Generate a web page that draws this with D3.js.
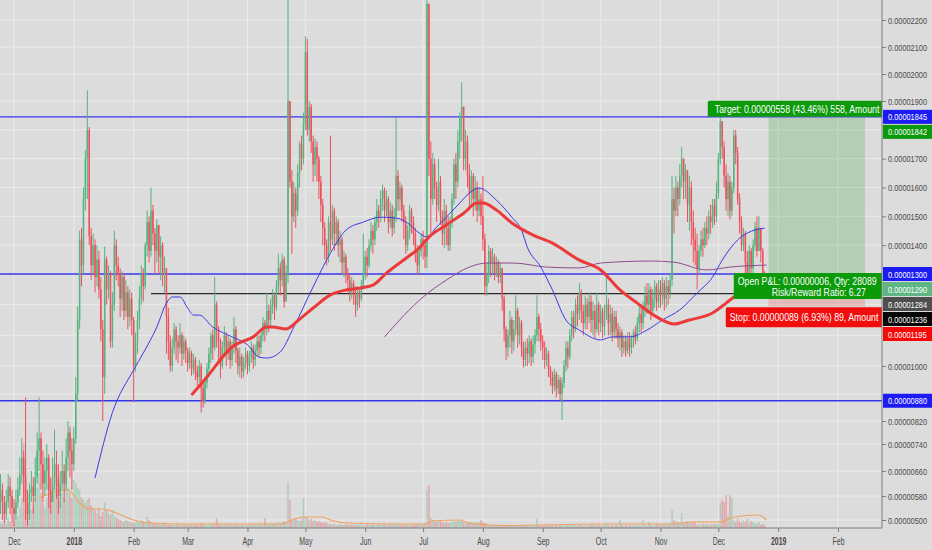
<!DOCTYPE html>
<html>
<head>
<meta charset="utf-8">
<script src="https://cdn.jsdelivr.net/npm/d3@7"></script>
<style>
  body { margin: 0; background: #dcdcdc; }
  svg { display: block; font-family: "Liberation Sans", Arial, sans-serif; }
</style>
</head>
<body>
<div id="chart"></div>
<script>
// daily candles from 24 Nov 2017, prices in units of 0.00000001
// (body of each candle runs from the previous close to its own close)
const closes = [
  600,560,520,560,610,580,540,                                                            // Nov 17
  520,560,600,650,700,640,560,520,590,610,580,640,720,760,680,620,660,700,600,560,620,680,640,580,620,660,620,700,780,720,680, // Dec
  760,900,1150,1420,1330,1560,1700,1800,1430,1330,1400,1290,1350,1250,1120,960,1350,1250,1300,1080,1200,1400,1330,1300,1220,1290,1180,1240,1160,1220,1150, // Jan
  1000,1080,1150,1220,1300,1260,1400,1480,1380,1520,1440,1380,1470,1360,1400,1300,1320,1160,1080,1000,1060,1120,1080,1060,1100,1040,1080,1050, // Feb
  1010,1040,990,1020,980,960,1000,920,880,940,990,1040,1100,1060,1200,1120,1080,1000,1060,1100,1040,1080,1020,1060,1120,1050,1000,1030,980,1010,1040, // Mar
  1000,1030,1060,1020,1050,1080,1060,1100,1140,1120,1180,1150,1200,1230,1190,1260,1320,1280,1350,1210,1300,1900,1620,1500,1580,1520,1650,1750,1700,1820, // Apr
  2080,1800,1880,1760,1680,1740,1700,1620,1540,1460,1400,1360,1480,1420,1520,1440,1480,1400,1420,1340,1360,1300,1280,1240,1270,1230,1200,1240,1220,1260,1300, // May
  1360,1330,1400,1450,1420,1480,1520,1500,1560,1590,1520,1560,1480,1520,1460,1500,1640,1560,1600,1520,1480,1400,1450,1520,1480,1440,1380,1330,1380,1420, // Jun
  1400,1360,2260,1700,1560,1680,1600,1540,1620,1500,1440,1520,1460,1400,1480,1560,1680,1620,1760,1840,1880,1700,1760,1640,1580,1640,1560,1600,1520,1560,1500, // Jul
  1420,1260,1300,1380,1340,1360,1300,1340,1290,1320,1220,1120,1060,1100,1150,1080,1120,1180,1100,1140,1060,1020,1060,1040,1080,1030,1070,1100,1160,1120,1080, // Aug
  1060,1020,1040,990,960,930,970,920,950,900,940,1000,1060,1030,1100,1160,1120,1200,1170,1240,1180,1140,1200,1160,1210,1150,1180,1120,1200,1140, // Sep
  1180,1130,1170,1200,1140,1170,1110,1160,1120,1090,1110,1060,1080,1050,1090,1060,1080,1110,1090,1140,1170,1140,1190,1230,1200,1250,1180,1220,1260,1210,1250, // Oct
  1230,1270,1220,1260,1240,1280,1560,1520,1600,1560,1640,1700,1620,1660,1540,1600,1480,1420,1380,1320,1380,1420,1400,1460,1440,1500,1480,1540,1500,1580, // Nov
  1700,1830,1740,1640,1560,1620,1520,1600,1780,1720,1560,1480,1400,1440,1340,1300,1380,1320,1400,1460,1380,1460,1380,1300,1236 // Dec
];
const highs = [
  650,620,580,600,650,640,600,
  570,600,640,700,760,720,890,600,620,660,640,700,780,890,780,720,700,740,710,640,700,790,720,680,660,720,680,760,820,800,760,
  800,960,1195,1450,1460,1600,1730,1940,1810,1460,1440,1420,1400,1380,1290,1150,1395,1360,1330,1310,1240,1450,1420,1360,1320,1310,1300,1280,1260,1250,1240,
  1160,1110,1180,1260,1330,1320,1410,1520,1500,1600,1540,1460,1490,1470,1430,1410,1360,1320,1190,1100,1090,1140,1130,1100,1140,1110,1100,1090,
  1060,1060,1050,1040,1030,1000,1020,1010,940,960,1010,1060,1110,1120,1290,1210,1130,1090,1080,1130,1110,1100,1090,1080,1160,1130,1060,1060,1040,1030,1060,
  1050,1050,1080,1070,1070,1100,1100,1120,1160,1150,1240,1200,1220,1250,1240,1280,1370,1340,1370,1360,1330,2300,1900,1660,1620,1600,1680,1760,1780,1860,
  2140,2130,1900,1890,1780,1770,1760,1710,1640,1560,1480,1420,1500,1780,1540,1530,1500,1490,1450,1430,1380,1370,1320,1300,1290,1280,1260,1260,1250,1280,1440,
  1380,1390,1420,1480,1470,1500,1560,1540,1590,1610,1600,1590,1570,1550,1540,1530,1845,1660,1620,1610,1540,1500,1470,1540,1530,1500,1460,1400,1400,1440,
  1450,1420,2400,2260,1760,1720,1700,1620,1700,1640,1520,1560,1540,1500,1500,1580,1700,1720,1800,1860,1970,1880,1800,1780,1680,1660,1650,1640,1620,1600,1580,
  1640,1440,1340,1400,1390,1390,1370,1360,1350,1340,1320,1230,1130,1120,1180,1160,1150,1230,1190,1160,1150,1080,1080,1090,1100,1090,1100,1120,1230,1170,1140,
  1100,1080,1060,1050,1000,980,990,980,970,960,960,1020,1080,1080,1120,1180,1180,1220,1230,1270,1250,1200,1230,1220,1240,1230,1210,1200,1240,1210,
  1200,1190,1200,1300,1220,1200,1190,1180,1180,1140,1130,1120,1100,1100,1110,1110,1100,1120,1130,1160,1200,1190,1210,1260,1270,1270,1260,1250,1280,1270,1280,
  1280,1290,1280,1290,1280,1300,1640,1600,1640,1620,1680,1740,1700,1680,1660,1640,1620,1520,1460,1440,1400,1450,1460,1480,1500,1520,1540,1560,1560,1620,
  1720,1845,1830,1760,1680,1650,1640,1620,1800,1800,1740,1580,1500,1460,1450,1380,1400,1390,1420,1480,1500,1500,1460,1390,1310
];
const lows = [
  520,500,490,500,540,520,490,
  480,500,540,580,620,560,500,480,500,560,520,560,620,660,600,560,580,600,540,520,560,600,570,520,540,600,560,600,660,640,600,
  660,740,880,1120,1260,1300,1520,1560,1400,1280,1300,1240,1260,1220,1080,820,900,1200,1220,1060,1060,1180,1280,1260,1160,1180,1150,1160,1120,1130,1100,
  875,980,1040,1120,1200,1210,1250,1360,1340,1360,1400,1300,1340,1300,1280,1260,1240,1040,1020,980,980,1040,1020,1010,1040,1000,1020,1010,
  980,990,965,970,950,930,940,845,860,870,920,960,1010,1020,1050,1060,1020,955,990,1040,1000,1020,990,1000,1040,1010,970,960,955,960,990,
  970,980,1010,990,1000,1030,1030,1040,1080,1080,1100,1110,1130,1170,1150,1180,1240,1230,1260,1190,1210,1270,1600,1370,1480,1460,1500,1600,1660,1680,
  1800,1780,1760,1720,1620,1640,1620,1560,1480,1400,1350,1330,1340,1380,1400,1380,1400,1360,1340,1300,1290,1270,1240,1210,1220,1200,1160,1180,1190,1210,1250,
  1280,1290,1320,1380,1370,1400,1450,1460,1480,1520,1480,1500,1440,1460,1430,1440,1480,1520,1520,1480,1420,1370,1380,1420,1440,1400,1340,1300,1300,1360,
  1350,1320,1320,1640,1440,1540,1560,1480,1520,1470,1400,1390,1400,1380,1380,1460,1540,1560,1600,1700,1760,1660,1660,1600,1520,1540,1500,1520,1480,1500,1470,
  1380,1230,1230,1270,1290,1300,1280,1290,1270,1270,1180,1080,1020,1030,1060,1040,1050,1100,1060,1070,1030,995,1000,1000,1010,1000,1010,1040,1080,1080,1050,
  1020,990,1000,960,930,900,910,890,900,880,823,920,980,990,1020,1080,1090,1110,1130,1150,1140,1100,1120,1120,1140,1110,1100,1090,1110,1100,
  1110,1090,1100,1150,1100,1100,1080,1090,1090,1060,1050,1030,1040,1030,1040,1030,1040,1060,1070,1080,1110,1110,1120,1160,1170,1180,1150,1170,1190,1180,1190,
  1190,1200,1180,1190,1200,1220,1260,1440,1500,1500,1540,1600,1560,1560,1480,1450,1400,1340,1330,1250,1300,1360,1360,1390,1400,1420,1440,1460,1470,1480,
  1560,1680,1700,1600,1520,1500,1490,1500,1580,1680,1540,1440,1380,1380,1300,1270,1290,1280,1300,1380,1360,1400,1340,1270,1220
];
const volumes = [
  6,4,8,5,10,6,4,
  5,8,12,20,30,85,60,25,15,18,22,30,40,55,35,25,20,30,45,50,35,40,48,30,25,35,30,45,40,35,30,
  48,45,40,38,30,28,25,28,30,22,20,18,15,20,12,16,26,18,15,13,18,12,10,9,8,7,6,8,7,6,5,
  6,5,7,6,8,7,6,11,8,6,5,4,5,4,3,4,5,4,3,3,4,3,3,4,3,3,4,3,
  3,4,3,3,4,3,3,5,4,3,3,4,3,3,4,10,4,3,3,4,3,3,4,3,3,4,3,3,4,3,3,
  3,4,3,4,3,4,3,4,3,10,4,3,4,5,4,5,6,5,6,7,6,46,28,8,9,10,8,7,9,30,
  12,10,8,9,7,8,6,7,6,5,6,5,4,4,3,4,3,3,4,3,3,4,3,3,4,3,3,4,3,6,3,
  3,4,3,3,4,3,3,4,3,3,4,3,3,4,3,5,4,3,3,4,3,3,4,3,3,4,3,3,4,3,
  4,5,38,43,10,8,7,6,8,8,6,5,6,5,5,6,7,6,8,7,9,6,5,6,5,6,5,6,5,6,8,
  6,5,4,3,3,3,2,3,2,3,3,2,3,2,3,2,3,2,3,2,3,2,3,2,3,2,3,2,10,3,2,
  3,2,3,2,3,3,2,3,2,3,3,2,3,2,3,3,2,3,2,3,3,2,3,2,3,3,4,3,2,3,
  3,2,3,5,3,2,3,2,3,2,8,3,2,3,2,3,2,3,2,3,3,2,8,3,2,6,3,2,3,4,3,
  3,4,3,4,3,4,18,8,7,6,5,15,6,5,7,5,6,5,6,3,4,3,4,3,4,3,4,3,4,4,
  4,25,28,26,33,12,33,30,8,6,10,7,5,8,6,9,5,7,6,5,4,6,3,4,3
];

// moving averages: [day index, value]
const ma50 = [[49,638],[58,845],[69,986],[74,1042],[81,1127],[86,1205],[89,1225],[93,1225],[97,1189],[100,1166],[103,1166],[110,1127],[120,1095],[128,1069],[134,1029],[138,1026],[145,1046],[152,1127],[162,1258],[171,1373],[179,1452],[188,1480],[197,1497],[205,1494],[211,1477],[217,1442],[221,1428],[226,1463],[231,1497],[238,1546],[243,1581],[248,1598],[257,1556],[265,1497],[270,1452],[273,1393],[280,1324],[286,1248],[293,1150],[300,1117],[311,1085],[317,1095],[326,1095],[335,1117],[343,1150],[352,1183],[361,1238],[369,1290],[374,1348],[382,1418],[387,1442],[396,1459]];
const ma100 = [[99,897],[107,961],[120,1062],[131,1095],[138,1127],[141,1127],[148,1121],[155,1153],[162,1189],[171,1232],[179,1248],[186,1254],[193,1264],[200,1303],[211,1359],[217,1390],[222,1428],[231,1470],[240,1511],[247,1546],[250,1546],[257,1522],[265,1477],[276,1435],[286,1407],[300,1348],[311,1314],[321,1248],[330,1205],[340,1160],[349,1137],[357,1150],[369,1173],[376,1205],[380,1225],[396,1274]];
const ma200 = [[199,1095],[219,1225],[231,1280],[243,1324],[252,1338],[266,1338],[283,1324],[300,1321],[311,1338],[337,1345],[349,1341],[366,1314],[378,1324],[397,1331]];
const volMa = [[20,30],[28,36],[35,38],[41,25],[46,19],[53,19],[60,15],[69,8],[77,5],[95,4],[120,4],[146,4],[152,9],[159,11],[167,11],[171,8],[180,5],[207,4],[221,4],[223,7],[238,8],[243,5],[260,2.5],[311,4],[348,4],[359,6],[373,6],[380,11],[393,13],[397,8]];

// drawn levels and long position
const blueLevels = [1845, 1300, 880];
const blackLevel = 1236;
const blackLevelStart = new Date(2018, 1, 10);
const entry = 1284, target = 1842, stop = 1195;
const posStart = new Date(2018, 11, 27), posEnd = new Date(2019, 1, 15);
// label texts as far as they show before the price scale cuts them
const targetText = "Target: 0.00000558 (43.46%) 558, Amount";
const pnlText = "Open P&L: 0.00000006, Qty: 28089";
const rrText = "Risk/Reward Ratio: 6.27";
const stopText = "Stop: 0.00000089 (6.93%) 89, Amount";

// price scale labels
const priceTicks = [2200,2100,2000,1900,1800,1700,1600,1500,1400,1300,1200,1100,1000,900,820,740,660,580,500];
const axisLabels = [1845, 1842, 1300, 1290, 1284, 1236, 1195, 880];
const axisLabelColors = ["#1c1cf2","#0a990a","#1c1cf2","#5fb583","#4e4e4e","#060606","#f50a0a","#1c1cf2"];

const width = 932, height = 550;
const plotRight = 882, plotBottom = 528;
const firstDay = new Date(2017, 10, 24);
const dayAt = i => d3.timeDay.offset(firstDay, i);
const dates = closes.map((c, i) => dayAt(i));
const opens = closes.map((c, i) => i ? closes[i - 1] : 560);
const isUp = i => closes[i] >= opens[i];

const x = d3.scaleTime()
  .domain([new Date(2017, 11, 1), new Date(2019, 1, 1)])
  .range([14, 838]);
// the chart's price scale is slightly uneven, follow its tick positions
const y = d3.scaleLinear()
  .domain([500, 580, 660, 740, 820, 900, 1000, 1300, 1900, 2200])
  .range([520, 496, 471, 444, 421, 394, 366, 274, 101, 20]);
const yVol = d3.scaleLinear().domain([0, 100]).range([plotBottom, 428]);
const fmt = v => (v / 1e8).toFixed(8);
const monthTicks = d3.timeMonth.range(new Date(2017, 11, 1), new Date(2019, 1, 2));

// coloured price labels on the scale, stacked so they don't overlap
let prevY = -Infinity;
const labelY = axisLabels.map(v => {
  const yy = Math.max(y(v), prevY + 15);
  prevY = yy;
  return yy;
});
// tick labels that sit under a coloured label are hidden, as on the chart
const shownTicks = priceTicks.filter(t => labelY.every(ly => Math.abs(y(t) - ly) > 9));

const svg = d3.select("#chart").append("svg")
  .attr("width", width).attr("height", height);

svg.append("rect").attr("width", width).attr("height", height).attr("fill", "#dcdcdc");
svg.append("clipPath").attr("id", "plot")
  .append("rect").attr("width", plotRight).attr("height", plotBottom);
const plot = svg.append("g").attr("clip-path", "url(#plot)");

// grid
plot.append("g").selectAll("line").data(priceTicks).join("line")
  .attr("x1", 0).attr("x2", plotRight)
  .attr("y1", d => y(d)).attr("y2", d => y(d))
  .attr("stroke", "#ebebeb");
plot.append("g").selectAll("line").data(monthTicks).join("line")
  .attr("x1", d => x(d)).attr("x2", d => x(d))
  .attr("y1", 0).attr("y2", plotBottom)
  .attr("stroke", "#ebebeb");

// volume
plot.append("g").selectAll("rect").data(volumes).join("rect")
  .attr("x", (d, i) => x(dates[i]) - 0.8)
  .attr("width", 1.6)
  .attr("y", d => yVol(d))
  .attr("height", d => plotBottom - yVol(d))
  .attr("fill", (d, i) => isUp(i) ? "rgba(83,185,135,0.35)" : "rgba(235,77,92,0.35)");

plot.append("path")
  .datum(volMa)
  .attr("fill", "none")
  .attr("stroke", "#f3a25e")
  .attr("stroke-width", 1.2)
  .attr("d", d3.line().x(d => x(dayAt(d[0]))).y(d => yVol(d[1])).curve(d3.curveMonotoneX));

// position areas
plot.append("rect")
  .attr("x", x(posStart)).attr("width", x(posEnd) - x(posStart))
  .attr("y", y(target)).attr("height", y(entry) - y(target))
  .attr("fill", "rgba(40,160,40,0.22)");
plot.append("rect")
  .attr("x", x(posStart)).attr("width", x(posEnd) - x(posStart))
  .attr("y", y(entry)).attr("height", y(stop) - y(entry))
  .attr("fill", "rgba(240,40,40,0.2)");

// levels
plot.append("g").selectAll("line").data(blueLevels).join("line")
  .attr("x1", 0).attr("x2", plotRight)
  .attr("y1", d => y(d)).attr("y2", d => y(d))
  .attr("stroke", "#3636ec").attr("stroke-width", 1.4);
plot.append("line")
  .attr("x1", x(blackLevelStart)).attr("x2", plotRight)
  .attr("y1", y(blackLevel)).attr("y2", y(blackLevel))
  .attr("stroke", "#2a2a2a").attr("stroke-width", 1.3);

// candles
const candle = plot.append("g").selectAll("g").data(closes).join("g")
  .attr("transform", (d, i) => `translate(${x(dates[i])},0)`);
candle.append("line")
  .attr("y1", (d, i) => y(Math.max(highs[i], opens[i], d)))
  .attr("y2", (d, i) => y(Math.min(lows[i], opens[i], d)))
  .attr("stroke", (d, i) => isUp(i) ? "#53b47f" : "#ee4f5b")
  .attr("stroke-width", 1);
candle.append("rect")
  .attr("x", -0.75).attr("width", 1.5)
  .attr("y", (d, i) => y(Math.max(opens[i], d)))
  .attr("height", (d, i) => Math.max(1, Math.abs(y(opens[i]) - y(d))))
  .attr("fill", (d, i) => isUp(i) ? "#53b47f" : "#ee4f5b");

// moving averages
const maLine = d3.line().x(d => x(dayAt(d[0]))).y(d => y(d[1])).curve(d3.curveMonotoneX);
plot.append("path").datum(ma200).attr("fill", "none")
  .attr("stroke", "#8d4c8f").attr("stroke-width", 1).attr("d", maLine);
plot.append("path").datum(ma50).attr("fill", "none")
  .attr("stroke", "#3b3be6").attr("stroke-width", 1).attr("d", maLine);
plot.append("path").datum(ma100).attr("fill", "none")
  .attr("stroke", "#ec3a3a").attr("stroke-width", 3).attr("d", maLine);

// position labels
const mid = (x(posStart) + x(posEnd)) / 2;
function label(g, left, top, w, h, fill) {
  g.append("rect").attr("x", left).attr("y", top).attr("width", w).attr("height", h)
    .attr("fill", fill).attr("rx", 1.5);
}
function stext(g, tx, ty, str, anchor) {
  g.append("text")
    .attr("transform", `translate(${tx},${ty}) scale(0.76,1)`)
    .attr("text-anchor", anchor)
    .attr("fill", "#fff")
    .attr("font-size", 11.5)
    .text(str);
}
const labels = plot.append("g");
label(labels, mid - 109, y(target) - 17, 218, 16, "#0a9a0a");
stext(labels, mid - 102, y(target) - 5, targetText, "start");
label(labels, mid - 83, y(entry) - 6, 166, 26, "#0a9a0a");
stext(labels, mid - 79, y(entry) + 6, pnlText, "start");
stext(labels, mid + 2, y(entry) + 17, rrText, "middle");
label(labels, mid - 91, y(stop) + 1, 182, 20, "#f20d0d");
stext(labels, mid - 87, y(stop) + 15, stopText, "start");

// axes
svg.append("line").attr("x1", plotRight).attr("x2", plotRight)
  .attr("y1", 0).attr("y2", plotBottom).attr("stroke", "#7d7d7d");
svg.append("line").attr("x1", 0).attr("x2", plotRight)
  .attr("y1", plotBottom).attr("y2", plotBottom).attr("stroke", "#7d7d7d");

const gy = svg.append("g")
  .attr("transform", `translate(${plotRight},0)`)
  .call(d3.axisRight(y).tickValues(shownTicks).tickSize(4).tickPadding(2).tickFormat(fmt));
gy.select(".domain").remove();
gy.selectAll(".tick line").attr("stroke", "#7d7d7d");
gy.selectAll(".tick text")
  .attr("x", 6 / 0.78)
  .attr("transform", "scale(0.78,1)")
  .attr("fill", "#4a4a4a")
  .attr("font-size", 9.5)
  .attr("font-family", "'Liberation Sans', Arial, sans-serif");

const gx = svg.append("g")
  .attr("transform", `translate(0,${plotBottom})`)
  .call(d3.axisBottom(x).tickValues(monthTicks).tickSize(4).tickPadding(6)
    .tickFormat(d => d.getMonth() ? d3.timeFormat("%b")(d) : d3.timeFormat("%Y")(d)));
gx.select(".domain").remove();
gx.selectAll(".tick line").attr("stroke", "#7d7d7d");
gx.selectAll(".tick text")
  .attr("transform", "scale(0.7,1)")
  .attr("fill", "#4a4a4a")
  .attr("font-size", 10)
  .attr("font-weight", d => d.getMonth() ? "normal" : "bold")
  .attr("font-family", "'Liberation Sans', Arial, sans-serif");

const tags = svg.append("g").selectAll("g").data(axisLabels).join("g")
  .attr("transform", (d, i) => `translate(${plotRight + 1},${labelY[i]})`);
tags.append("rect")
  .attr("x", 0).attr("y", -7).attr("width", width - plotRight).attr("height", 14)
  .attr("fill", (d, i) => axisLabelColors[i]);
tags.append("text")
  .attr("transform", "translate(5,3.5) scale(0.78,1)")
  .attr("fill", "#fff")
  .attr("font-size", 9.5)
  .text(d => fmt(d));
</script>
</body>
</html>
